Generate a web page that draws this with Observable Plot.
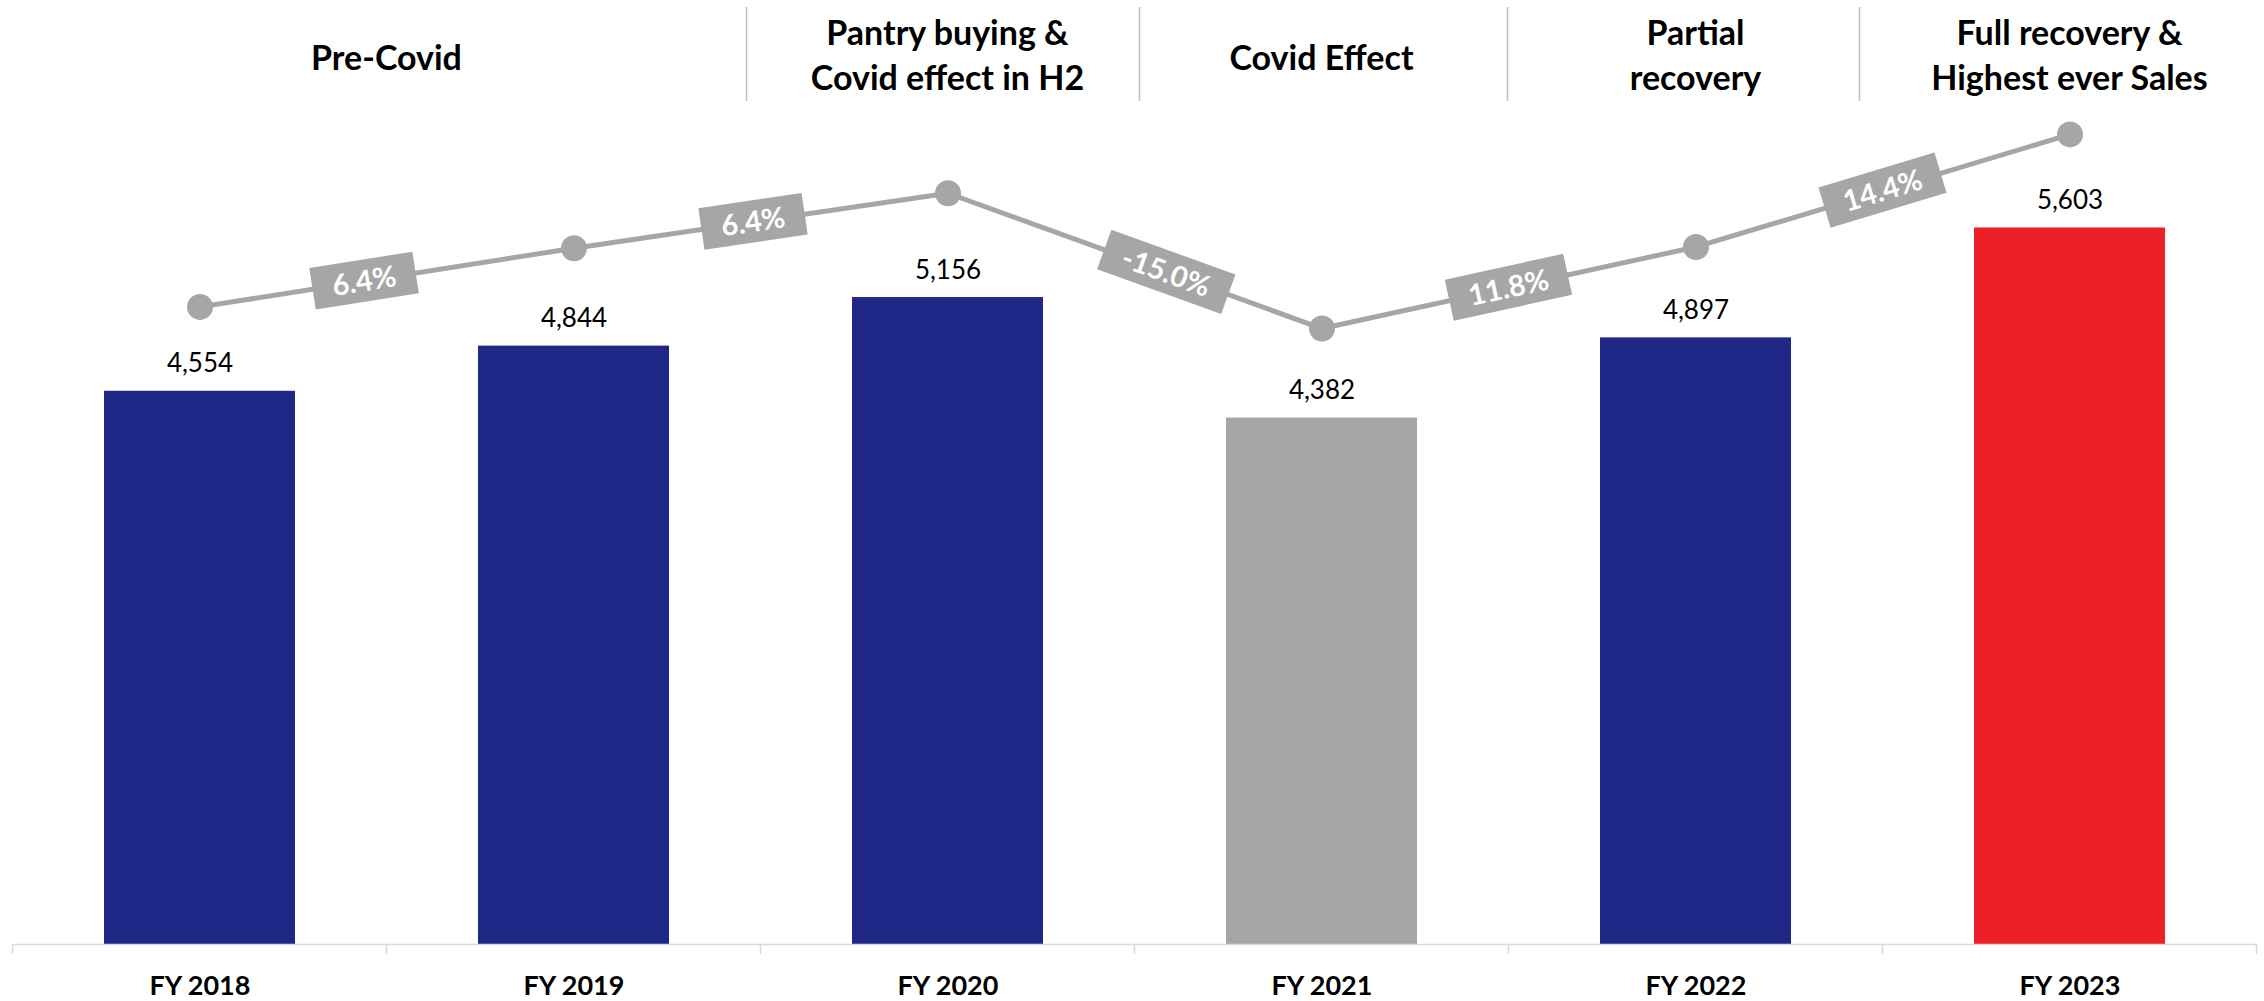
<!DOCTYPE html>
<html>
<head>
<meta charset="utf-8">
<script src="https://cdn.jsdelivr.net/npm/d3@7"></script>
<script src="https://cdn.jsdelivr.net/npm/@observablehq/plot@0.6"></script>
<style>
  html, body { margin: 0; padding: 0; background: #fff; }
  #chart svg { display: block; }
</style>
</head>
<body>
<div id="chart"></div>
<script>
// ---------------- data ----------------
const years = ["FY 2018", "FY 2019", "FY 2020", "FY 2021", "FY 2022", "FY 2023"];
const sales = [4554, 4844, 5156, 4382, 4897, 5603];
const status = ["base", "base", "base", "covid", "base", "record"];
// trend line levels (in the units of the value axis)
const trendLevel = [5096, 5473, 5826, 4957, 5481, 6204];
const growthLabels = ["6.4%", "6.4%", "-15.0%", "11.8%", "14.4%"];
const phaseLabels = ["Pre-Covid", "Pantry buying &\nCovid effect in H2", "Covid Effect", "Partial\nrecovery", "Full recovery &\nHighest ever Sales"];
const phaseSpans = [["FY 2018", "FY 2019"], ["FY 2020", "FY 2020"], ["FY 2021", "FY 2021"], ["FY 2022", "FY 2022"], ["FY 2023", "FY 2023"]];

// ---------------- layout & style ----------------
const FONT = "Lato, 'Open Sans', 'Noto Sans', sans-serif";
const W = 2264, H = 1001;
const yMin = 1000, yMax = 7000;
const colorFor = {base: "#1F2787", covid: "#A6A6A6", record: "#ED2027"};
const GREY = "#A6A6A6";
const AXIS_GREY = "#D9D9D9";
const labelAlong = [0.44, 0.48, 0.585, 0.5, 0.5];   // placement of growth boxes along each segment
const dividerShift = [0, -14, 5, -1, -23];          // nudges of the header dividers
const pctSize = 29, pctPad = 20, pctBoxH = 42;
const headSize = 34, headMid = 67, headGap = 45, headSingleShift = 3;

const data = years.map((year, i) => ({year, sales: sales[i], trend: trendLevel[i], status: status[i]}));

const ctx2d = document.createElement("canvas").getContext("2d");
function textWidth(t, font) { ctx2d.font = font; return ctx2d.measureText(t).width; }

function bandEdges(x) {
  const step = x.step(), bw = x.bandwidth(), d = x.domain();
  const e = d.map(v => x(v) - (step - bw) / 2);
  e.push(x(d[d.length - 1]) + bw + (step - bw) / 2);
  return e;
}

// axis tick marks at category boundaries
function axisTicks(index, {x, y}) {
  const g = d3.create("svg:g").attr("stroke", AXIS_GREY).attr("stroke-width", 1.5);
  const y0 = y(yMin);
  for (const e of bandEdges(x)) {
    g.append("line").attr("x1", e).attr("x2", e).attr("y1", y0).attr("y2", y0 + 10);
  }
  return g.node();
}

// phase headers with dividers
function headerMark(index, {x}) {
  const g = d3.create("svg:g");
  const bw = x.bandwidth(), step = x.step();
  const t = g.append("g")
    .attr("font-family", FONT).attr("font-weight", "bold").attr("font-size", headSize)
    .attr("text-anchor", "middle").attr("fill", "#000");
  phaseLabels.forEach((lab, i) => {
    const [a, b] = phaseSpans[i];
    const cx = (x(a) + x(b) + bw) / 2;
    const lines = lab.split("\n");
    const txt = t.append("text");
    const shift = lines.length === 1 ? headSingleShift : 0;
    lines.forEach((ln, j) => {
      txt.append("tspan").attr("x", cx)
        .attr("y", headMid + shift + (j - (lines.length - 1) / 2) * headGap)
        .text(ln);
    });
    if (i > 0) {
      const bx = x(a) - (step - bw) / 2 + dividerShift[i];
      g.append("line").attr("x1", bx).attr("x2", bx).attr("y1", 7).attr("y2", 101)
        .attr("stroke", "#BFBFBF").attr("stroke-width", 1.5);
    }
  });
  return g.node();
}

// growth labels in rotated grey boxes along the trend line
function growthMark(index, {x, y}) {
  const g = d3.create("svg:g");
  const cx = v => x(v) + x.bandwidth() / 2;
  growthLabels.forEach((lab, i) => {
    const x0 = cx(years[i]), y0 = y(trendLevel[i]);
    const x1 = cx(years[i + 1]), y1 = y(trendLevel[i + 1]);
    const t = labelAlong[i];
    const px = x0 + t * (x1 - x0), py = y0 + t * (y1 - y0);
    const ang = Math.atan2(y1 - y0, x1 - x0) * 180 / Math.PI;
    const w = textWidth(lab, `bold ${pctSize}px Lato, 'Open Sans', sans-serif`) + 2 * pctPad;
    const gg = g.append("g").attr("transform", `translate(${px},${py}) rotate(${ang})`);
    gg.append("rect").attr("x", -w / 2).attr("y", -pctBoxH / 2)
      .attr("width", w).attr("height", pctBoxH).attr("fill", GREY);
    gg.append("text").attr("text-anchor", "middle").attr("dy", "0.36em")
      .attr("fill", "#fff").attr("font-weight", "bold").attr("font-size", pctSize)
      .attr("font-family", FONT).text(lab);
  });
  return g.node();
}

const plot = Plot.plot({
  width: W,
  height: H,
  marginLeft: 12,
  marginRight: 7,
  marginTop: 10,
  marginBottom: 57,
  style: {fontFamily: FONT, background: "#fff", overflow: "visible"},
  x: {domain: years, paddingInner: 0.49, paddingOuter: 0.245, axis: null},
  y: {domain: [yMin, yMax], axis: null},
  color: {type: "identity"},
  marks: [
    Plot.barY(data, {x: "year", y1: () => yMin, y2: "sales", fill: d => colorFor[d.status]}),
    Plot.ruleY([yMin], {stroke: AXIS_GREY, strokeWidth: 1.5}),
    axisTicks,
    Plot.text(data, {
      x: "year", y: "sales", text: d => d3.format(",")(d.sales),
      lineAnchor: "bottom", dy: -19, fontSize: 26, fill: "#000"
    }),
    Plot.line(data, {x: "year", y: "trend", stroke: GREY, strokeWidth: 5}),
    Plot.dot(data, {x: "year", y: "trend", r: 13, fill: GREY, stroke: "none"}),
    growthMark,
    Plot.text(data, {
      x: "year", text: "year", frameAnchor: "bottom", lineAnchor: "bottom",
      dy: 50, fontSize: 27, fontWeight: "bold", fill: "#000"
    }),
    headerMark
  ]
});

document.getElementById("chart").append(plot);
</script>
</body>
</html>
